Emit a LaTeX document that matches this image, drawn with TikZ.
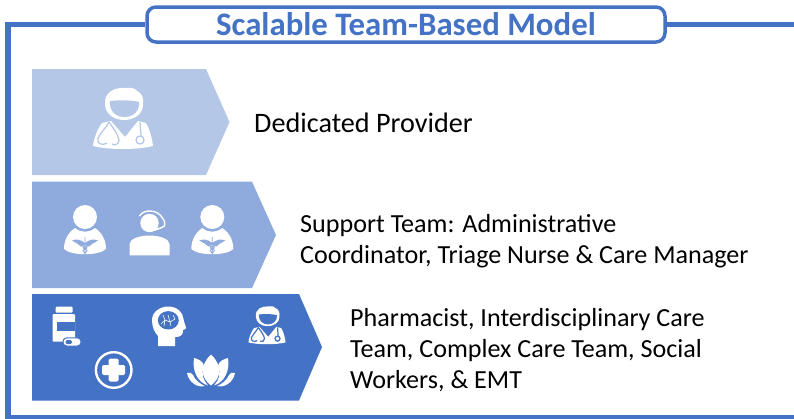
\documentclass[tikz,border=0pt]{standalone}
\usepackage{fontspec}
\setmainfont{Carlito}
\definecolor{lightblue}{HTML}{B4C7E7}
\definecolor{midblue}{HTML}{8FAADC}
\definecolor{darkblue}{HTML}{4472C4}
\tikzset{
	label/.style={anchor=west, align=left, text=black, font=\fontsize{26.1}{31}\selectfont, inner sep=0pt},
	pics/doctor/.style={code={
		\fill[white] (-18,-14) .. controls (-19,-26) and (-8,-31) .. (3,-30) .. controls (9,-31) and (13,-29) .. (14,-27) .. controls (19,-25) and (21,-20) .. (20,-13) .. controls (20,-4) and (11,2) .. (1,2) .. controls (-10,2) and (-18,-5) .. (-18,-14) -- cycle;
		\fill[#1] (-13,-17) .. controls (-5,-18) and (8,-18) .. (16,-16) .. controls (17,-7) and (10,-1) .. (1.5,-1) .. controls (-7,-1) and (-14,-7) .. (-13,-17) -- cycle;
		\fill[white] (-21,5) -- (-12,3) -- (2,19) -- (15,3) -- (23,5) .. controls (27,12) and (29,20) .. (30,28) .. controls (15,32) and (-15,32) .. (-30,28) .. controls (-29,20) and (-26,12) .. (-21,5) -- cycle;
		\draw[#1, line width=1.2pt] (-14,4) .. controls (-17,10) and (-22,14) .. (-25,20) .. controls (-27,26) and (-20,28) .. (-16,25) (-14,4) .. controls (-10,10) and (-5,16) .. (-4,22) .. controls (-4,26) and (-8,28) .. (-11,26);
		\draw[#1, line width=1.2pt] (17,4) -- (18,18);
		\draw[#1, line width=1.3pt] (17,22) circle (4);
	}},
	pics/nurse/.style={code={
		\fill[white] (0,-28) circle (12);
		\fill[white] (-10,-17) .. controls (-4,-12) and (4,-12) .. (10,-17) .. controls (16,-13) and (21,-6) .. (21,4) .. controls (14,11) and (-14,11) .. (-21,4) .. controls (-21,-6) and (-16,-13) .. (-10,-17) -- cycle;
		\fill[#1] (0,-2) .. controls (-5,-6) and (-9,-6) .. (-13,-4.5) .. controls (-9,-2) and (-6,-1) .. (-4,1.5) .. controls (-2,0) and (2,0) .. (4,1.5) .. controls (6,-1) and (9,-2) .. (13,-4.5) .. controls (9,-6) and (5,-6) .. (0,-2) -- cycle;
		\draw[#1, line width=0.8pt] (0,-8) -- (0,10) (-3,1) .. controls (3,2) and (3,3) .. (0,4) .. controls (-3,5) and (-3,6) .. (1,8) (3,1) .. controls (-3,2) and (-3,3) .. (0,4) .. controls (3,5) and (3,6) .. (-1,8);
	}},
	pics/agent/.style={code={
		\fill[white] (0,-22) circle (9.2);
		\draw[white, line width=1.4pt] (-10,-29) .. controls (-6,-36) and (8,-36) .. (13,-27) .. controls (15,-24) and (16,-22) .. (15,-19) .. controls (12,-17) and (8,-16) .. (5,-15);
		\draw[white, line width=1.8pt] (4,-15) -- (9,-16.5);
		\fill[white] (-20,10.3) -- (-20,-1) .. controls (-20,-6) and (-10,-9.5) .. (0,-9.5) .. controls (10,-9.5) and (20,-6) .. (20,-1) -- (20,10.3) -- cycle;
	}},
	pics/bottle/.style={code={
		\fill[white, rounded corners=1pt] (-10.3,-18.3) rectangle (6.7,-12.3);
		\fill[white, rounded corners=1pt] (-13.3,-11) rectangle (9,16.7);
		\fill[#1] (-9.3,-3.3) rectangle (9,5.7);
		\fill[white, rounded corners=3.7pt, draw=#1, line width=1pt] (-3,12.8) rectangle (15,21);
		\fill[#1, rounded corners=1.5pt] (-0.5,15) rectangle (6,19);
	}},
	pics/brainhead/.style={code={
		\fill[white] (-10,20) -- (-10,10) .. controls (-14,6) and (-16,0) .. (-16,-6) .. controls (-16,-14) and (-8,-19.5) .. (0,-19.5) .. controls (10,-19.5) and (15,-13) .. (15.5,-7) .. controls (16,-3) and (18,0) .. (18,2) .. controls (18,3) and (16,3.5) .. (15,4) .. controls (15,8) and (14,11) .. (7,11) -- (7,20) -- cycle;
		\fill[#1] (0.3,-5.7) ellipse (10.5 and 9.2);
		\draw[white, line width=0.6pt] (-7,-2) -- (-3,-6) -- (2,-4) -- (7,-7) (-3,-6) -- (-5,-11) (2,-4) -- (3,0) (0,-11) -- (2,-4) (-3,-6) -- (-4,0) (5,-11) -- (7,-7);
	}},
	pics/pluscircle/.style={code={
		\draw[white, line width=2.4pt] (0,0) circle (17.8);
		\fill[white, rounded corners=1.5pt] (-11.5,-5) rectangle (11.5,5);
		\fill[white, rounded corners=1.5pt] (-5,-11.5) rectangle (5,11.5);
	}},
	pics/lotus/.style={code={
		\fill[white] (0,-15.5) .. controls (-12,-4) and (-10,8) .. (0,15.5) .. controls (10,8) and (12,-4) .. (0,-15.5) -- cycle;
		\fill[white] (-17,-12) .. controls (-10,-10) and (-8,-8) .. (-7,-4) .. controls (-10,4) and (-8,10) .. (-3,15.5) .. controls (-14,12) and (-19,0) .. (-17,-12) -- cycle;
		\fill[white] (17,-12) .. controls (10,-10) and (8,-8) .. (7,-4) .. controls (10,4) and (8,10) .. (3,15.5) .. controls (14,12) and (19,0) .. (17,-12) -- cycle;
		\fill[white] (-24,3) .. controls (-21,2) and (-19,3) .. (-18,5) .. controls (-16,10) and (-11,14) .. (-6,16) .. controls (-13,18) and (-22,13) .. (-24,3) -- cycle;
		\fill[white] (24,3) .. controls (21,2) and (19,3) .. (18,5) .. controls (16,10) and (11,14) .. (6,16) .. controls (13,18) and (22,13) .. (24,3) -- cycle;
	}}
}
\begin{document}
\begin{tikzpicture}[x=1pt, y=-1pt, line join=miter]
	\useasboundingbox (0,0) rectangle (794,418);
	% frame and title
	\node[draw=darkblue, line width=3.5pt, rounded corners=9pt, fill=white, minimum width=518pt, minimum height=35pt, inner sep=0pt, text=darkblue, font=\fontsize{32.8}{34}\selectfont\bfseries] (title) at (406,24.5) {Scalable Team-Based Model};
	\coordinate (frameend) at (794,417.5);
	\coordinate (topend) at (794,24.5);
	\draw[darkblue, line width=5.5pt] (title.west) -| (8,417.5) -- (frameend);
	\draw[darkblue, line width=5.5pt] (title.east) -- (topend);
	% chevrons
	\fill[lightblue] (32,69) -- (206,69) -- (229.5,122) -- (206,175) -- (32,175) -- cycle;
	\fill[midblue] (32,181.7) -- (252,181.7) -- (276,235) -- (252,288) -- (32,288) -- cycle;
	\fill[darkblue] (32,294) -- (299,294) -- (322,347) -- (299,400.5) -- (32,400.5) -- cycle;
	% icons
	\pic at (123,118) {doctor=lightblue};
	\pic at (85,245) {nurse=midblue};
	\pic at (149.5,245) {agent=midblue};
	\pic at (212.3,245) {nurse=midblue};
	\pic at (66,325) {bottle=darkblue};
	\pic at (168,326) {brainhead=darkblue};
	\pic[scale=0.62] at (267,325) {doctor=darkblue};
	\pic at (113.7,370) {pluscircle};
	\pic at (211,370) {lotus};
	% labels
	\node[label, font=\fontsize{28.2}{31}\selectfont] (provider) at (254,122.5) {Dedicated Provider};
	\node[label] (support) at (300,241) {Support Team: Administrative\\Coordinator, Triage Nurse \& Care Manager};
	\node[label] (others) at (350,350) {Pharmacist, Interdisciplinary Care\\Team, Complex Care Team, Social\\Workers, \& EMT};
\end{tikzpicture}
\end{document}
